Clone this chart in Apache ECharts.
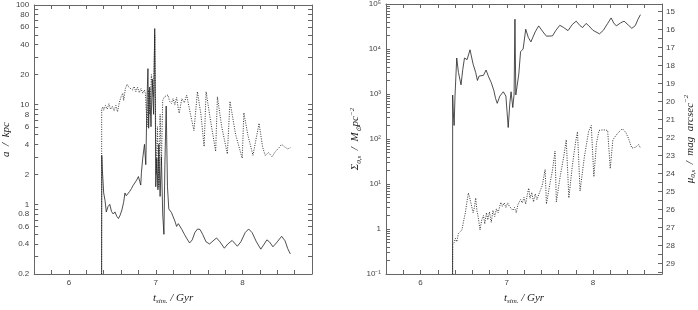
<!DOCTYPE html>
<html>
<head>
<meta charset="utf-8">
<script src="https://cdn.jsdelivr.net/npm/echarts@6/dist/echarts.min.js"></script>
<style>
  html, body { margin: 0; padding: 0; background: #fff; }
  #main { width: 698px; height: 310px; }
</style>
</head>
<body>
<div id="main"></div>
<script>
// time ticks (Gyr)
const tTicks = [5.6, 5.8, 6.0, 6.2, 6.4, 6.6, 6.8, 7.0, 7.2, 7.4, 7.6, 7.8, 8.0, 8.2, 8.4, 8.6, 8.8];
const tLabels = [6, 7, 8];
// left panel y ticks (kpc)
const aTicks = [0.2, 0.3, 0.4, 0.5, 0.6, 0.7, 0.8, 0.9, 1, 2, 3, 4, 5, 6, 7, 8, 9, 10, 20, 30, 40, 50, 60, 70, 80, 90, 100];
const aLabels = [0.2, 0.4, 0.6, 0.8, 1, 2, 4, 6, 8, 10, 20, 40, 60, 80, 100];
// right panel y ticks
const sTicks = [0.1, 0.2, 0.3, 0.4, 0.5, 0.6, 0.7, 0.8, 0.9, 1, 2, 3, 4, 5, 6, 7, 8, 9, 10, 20, 30, 40, 50, 60, 70, 80, 90,
  100, 200, 300, 400, 500, 600, 700, 800, 900, 1000, 2000, 3000, 4000, 5000, 6000, 7000, 8000, 9000,
  10000, 20000, 30000, 40000, 50000, 60000, 70000, 80000, 90000, 100000];
const sLabels = [0.1, 1, 10, 100, 1000, 10000, 100000];
const muLabels = [15, 16, 17, 18, 19, 20, 21, 22, 23, 24, 25, 26, 27, 28, 29];
const muTicks = [15, 15.5, 16, 16.5, 17, 17.5, 18, 18.5, 19, 19.5, 20, 20.5, 21, 21.5, 22, 22.5, 23, 23.5, 24, 24.5,
  25, 25.5, 26, 26.5, 27, 27.5, 28, 28.5, 29, 29.5];

// left panel, solid curve
const tA1 = [6.376, 6.378, 6.385, 6.40, 6.415, 6.43, 6.45, 6.47, 6.49, 6.51, 6.53, 6.55, 6.57, 6.59, 6.61, 6.63, 6.645, 6.66,
  6.68, 6.70, 6.72, 6.74, 6.76, 6.78, 6.80, 6.815, 6.827, 6.835, 6.85, 6.87, 6.885, 6.90, 6.91, 6.918, 6.93, 6.945, 6.96,
  6.975, 6.988, 6.995, 7.00, 7.012, 7.025, 7.035, 7.05, 7.065, 7.08, 7.094, 7.105, 7.12, 7.135, 7.15, 7.165, 7.18, 7.20,
  7.22, 7.24, 7.26, 7.28, 7.30, 7.33, 7.36, 7.39, 7.42, 7.45, 7.48, 7.51, 7.54, 7.58, 7.62, 7.66, 7.70, 7.74, 7.79, 7.83,
  7.88, 7.94, 7.98, 8.03, 8.07, 8.11, 8.16, 8.21, 8.25, 8.28, 8.31, 8.35, 8.40, 8.45, 8.49, 8.52, 8.55];
const aSolid = [0.2, 3.1, 2.2, 1.3, 1.1, 0.84, 0.95, 1.0, 0.85, 0.80, 0.84, 0.76, 0.72, 0.78, 0.88, 1.05, 1.3, 1.22,
  1.26, 1.35, 1.44, 1.55, 1.6, 1.75, 1.9, 1.7, 1.56, 2.1, 2.9, 4.0, 2.5, 12, 23, 5.8, 15, 6, 18,
  8, 58, 10, 1.5, 2.9, 1.4, 4, 1.2, 3, 0.8, 0.5, 2.5, 9.7, 1.5, 0.9, 0.87, 0.83, 0.80,
  0.68, 0.60, 0.64, 0.62, 0.56, 0.5, 0.45, 0.41, 0.44, 0.52, 0.565, 0.56, 0.5, 0.42, 0.40, 0.43, 0.46, 0.42, 0.363, 0.40,
  0.434, 0.38, 0.42, 0.52, 0.566, 0.52, 0.42, 0.355, 0.40, 0.44, 0.42, 0.375, 0.42, 0.478, 0.43, 0.36, 0.318];

// left panel, dotted curve
const tA2 = [6.376, 6.377, 6.39, 6.40, 6.42, 6.44, 6.46, 6.48, 6.50, 6.52, 6.54, 6.56, 6.58, 6.60, 6.62, 6.63, 6.65, 6.67,
  6.69, 6.71, 6.73, 6.75, 6.77, 6.79, 6.81, 6.83, 6.85, 6.87, 6.88, 6.90, 6.915, 6.93, 6.95, 6.975, 6.988, 6.995, 7.005,
  7.02, 7.035, 7.05, 7.065, 7.08, 7.10, 7.12, 7.14, 7.16, 7.18, 7.20, 7.22, 7.24, 7.26, 7.27, 7.30, 7.33, 7.356, 7.40,
  7.44, 7.48, 7.52, 7.557, 7.58, 7.63, 7.69, 7.71, 7.76, 7.825, 7.855, 7.92, 7.996, 8.015, 8.06, 8.12, 8.19, 8.23, 8.26,
  8.30, 8.34, 8.38, 8.42, 8.45, 8.48, 8.52, 8.55];
const aDotted = [0.2, 9.0, 9.5, 8.8, 9.8, 9.0, 10.2, 9.0, 9.6, 8.7, 9.8, 8.5, 10.5, 12, 13, 11, 14.5, 16,
  15, 15.5, 14, 15.2, 13.5, 15, 13.2, 14.5, 13, 14, 13, 6, 14, 8, 20, 12, 50, 12, 2.0,
  6, 1.5, 8, 2.5, 11, 12, 11.5, 12.5, 10.8, 10.3, 11.5, 10, 11.8, 9, 8.2, 11.5, 10.5, 12.5, 8,
  5.5, 13.5, 8, 3.8, 13.5, 7, 3.4, 12, 6, 3.2, 10.8, 5, 2.9, 8.3, 5, 3.1, 6.5, 3.8, 3.1,
  3.3, 3.0, 3.4, 3.7, 4.0, 3.8, 3.6, 3.7];

// right panel, solid curve (Msun pc^-2)
const tS1 = [6.372, 6.373, 6.38, 6.39, 6.40, 6.42, 6.44, 6.47, 6.49, 6.51, 6.54, 6.574, 6.61, 6.64, 6.66, 6.68, 6.70,
  6.73, 6.76, 6.79, 6.82, 6.85, 6.87, 6.89, 6.92, 6.96, 6.99, 7.017, 7.035, 7.05, 7.07, 7.085, 7.095, 7.105, 7.12, 7.14,
  7.16, 7.19, 7.22, 7.25, 7.28, 7.33, 7.37, 7.42, 7.46, 7.53, 7.57, 7.615, 7.66, 7.71, 7.76, 7.805, 7.85, 7.88, 7.92,
  7.95, 8.0, 8.075, 8.12, 8.17, 8.21, 8.24, 8.27, 8.32, 8.36, 8.41, 8.45, 8.49, 8.52, 8.55];
const sSolid = [0.1, 950, 400, 200, 900, 6300, 3000, 1600, 3500, 6300, 5800, 9600, 4600, 3000, 2000, 2500, 2400,
  2600, 3400, 2400, 1800, 1200, 800, 620, 900, 1120, 900, 180, 600, 1120, 500, 1000, 46000, 950, 1500, 2800,
  8700, 10000, 27500, 18000, 14400, 24000, 32600, 24000, 19300, 19500, 26000, 33600, 30000, 25600, 35000, 41600, 33000, 30000, 37000,
  33000, 26000, 21700, 26000, 37000, 49000, 38000, 32600, 38000, 41600, 34000, 28800, 33000, 45000, 58000];

// right panel, dotted curve
const tS2 = [6.372, 6.373, 6.39, 6.405, 6.42, 6.44, 6.46, 6.48, 6.50, 6.52, 6.54, 6.555, 6.57, 6.585, 6.61, 6.625, 6.64,
  6.655, 6.67, 6.69, 6.71, 6.73, 6.745, 6.765, 6.78, 6.80, 6.82, 6.84, 6.86, 6.88, 6.90, 6.93, 6.95, 6.97, 6.99, 7.01,
  7.03, 7.05, 7.07, 7.09, 7.11, 7.13, 7.16, 7.18, 7.20, 7.22, 7.24, 7.255, 7.27, 7.29, 7.31, 7.33, 7.35, 7.38, 7.41,
  7.445, 7.46, 7.50, 7.53, 7.56, 7.575, 7.62, 7.66, 7.69, 7.72, 7.76, 7.80, 7.82, 7.85, 7.90, 7.95, 7.98, 8.01, 8.04,
  8.07, 8.12, 8.17, 8.20, 8.23, 8.28, 8.34, 8.38, 8.41, 8.45, 8.49, 8.53, 8.55];
const sDotted = [0.1, 0.45, 0.5, 0.62, 0.52, 0.8, 0.85, 0.95, 1.5, 2.3, 4.2, 6.3, 5.0, 5.5, 2.3, 3.0, 4.9,
  2.5, 1.8, 0.95, 1.6, 2.0, 1.3, 2.3, 1.6, 2.4, 1.4, 2.6, 1.9, 2.8, 2.3, 3.9, 3.2, 3.8, 3.0, 3.8,
  3.2, 3.5, 2.6, 3.0, 2.3, 3.5, 4.5, 3.8, 5.0, 3.6, 6.0, 8.1, 4.8, 6.5, 4.0, 6.0, 4.5, 6.5, 9,
  21, 3.6, 10, 20, 54, 4.0, 15, 40, 96, 4.9, 25, 90, 145, 7, 40, 150, 200, 14.5, 80,
  155, 160, 155, 22, 96, 130, 170, 140, 105, 63, 65, 75, 63];

function zip(xs, ys) {
  return xs.map(function (x, i) { return [x, ys[i]]; });
}

const AX = '#666';
const TXT = '#444';
const labelFont = { color: TXT, fontSize: 8, fontFamily: 'Liberation Sans' };
const nameRich = {
  i: { fontFamily: 'Liberation Serif', fontStyle: 'italic', fontSize: 11, color: '#222', lineHeight: 14 },
  sub: { fontFamily: 'Liberation Serif', fontStyle: 'italic', fontSize: 7, color: '#222', verticalAlign: 'bottom', lineHeight: 7 },
  sup: { fontFamily: 'Liberation Serif', fontStyle: 'italic', fontSize: 7, color: '#222', verticalAlign: 'top', lineHeight: 7 }
};
const SUP = { '-': '⁻', '0': '⁰', '1': '¹', '2': '²', '3': '³', '4': '⁴', '5': '⁵', '6': '⁶' };

function xAx(grid, pos, withLabel, name) {
  return {
    gridIndex: grid, type: 'value', position: pos, min: 5.6, max: 8.8,
    axisLine: { onZero: false, lineStyle: { color: AX, width: 1 } },
    axisTick: { inside: true, length: 4, customValues: tTicks, lineStyle: { color: AX } },
    axisLabel: Object.assign({ show: withLabel, customValues: tLabels, margin: 5 }, labelFont),
    splitLine: { show: false },
    name: name || '', nameLocation: 'middle', nameGap: 17,
    nameTextStyle: { rich: nameRich }
  };
}

function logAx(grid, pos, min, max, ticks, labels, withLabel, fmt, name, gap) {
  return {
    gridIndex: grid, type: 'log', logBase: 10, position: pos, min: min, max: max,
    axisLine: { lineStyle: { color: AX, width: 1 } },
    axisTick: { inside: true, length: 4, customValues: ticks, lineStyle: { color: AX } },
    axisLabel: Object.assign({ show: withLabel, customValues: labels, margin: 5, formatter: fmt }, labelFont),
    splitLine: { show: false },
    name: name || '', nameLocation: 'middle', nameGap: gap || 20, nameRotate: 90,
    nameTextStyle: { rich: nameRich }
  };
}

function sFmt(v) {
  const e = Math.round(Math.log10(v));
  if (e === 0) return '1';
  return '10' + String(e).split('').map(function (c) { return SUP[c]; }).join('');
}

const lineSolid = { color: '#222', width: 0.8 };
const lineDot = { color: '#333', width: 1, type: [1, 1.4] };

const option = {
  animation: false,
  backgroundColor: '#fff',
  grid: [
    { left: 32, top: 5, width: 280, height: 279 },
    { left: 386, top: 4, width: 281, height: 280 }
  ],
  xAxis: [
    xAx(0, 'bottom', true, '{i|t}{sub|sim.}{i| / Gyr}'),
    xAx(0, 'top', false),
    xAx(1, 'bottom', true, '{i|t}{sub|sim.}{i| / Gyr}'),
    xAx(1, 'top', false)
  ],
  yAxis: [
    logAx(0, 'left', 0.2, 100, aTicks, aLabels, true, function (v) { return String(+v.toPrecision(3)); }, '{i|a  /  kpc}', 20),
    logAx(0, 'right', 0.2, 100, aTicks, aLabels, false),
    logAx(1, 'left', 0.1, 100000, sTicks, sLabels, true, sFmt, '{i|Σ}{sub|0,s}{i|  /  M}{sub|⊙}{i|pc}{sup|−2}', 21),
    {
      gridIndex: 1, type: 'value', position: 'right', inverse: true, min: 14.59, max: 29.59,
      axisLine: { onZero: false, lineStyle: { color: AX, width: 1 } },
      axisTick: { inside: true, length: 4, customValues: muTicks, lineStyle: { color: AX } },
      axisLabel: Object.assign({ customValues: muLabels, margin: 4 }, labelFont),
      splitLine: { show: false },
      name: '{i|μ}{sub|0,s}{i|  /  mag  arcsec}{sup|−2}', nameLocation: 'middle', nameGap: 21, nameRotate: 90,
      nameTextStyle: { rich: nameRich }
    }
  ],
  series: [
    { type: 'line', xAxisIndex: 0, yAxisIndex: 0, data: zip(tA2, aDotted), showSymbol: false, lineStyle: lineDot },
    { type: 'line', xAxisIndex: 0, yAxisIndex: 0, data: zip(tA1, aSolid), showSymbol: false, lineStyle: lineSolid },
    { type: 'line', xAxisIndex: 2, yAxisIndex: 2, data: zip(tS2, sDotted), showSymbol: false, lineStyle: lineDot },
    { type: 'line', xAxisIndex: 2, yAxisIndex: 2, data: zip(tS1, sSolid), showSymbol: false, lineStyle: lineSolid }
  ]
};

const mychart = echarts.init(document.getElementById('main'), null, { renderer: 'canvas' });
mychart.setOption(option);
</script>
</body>
</html>
